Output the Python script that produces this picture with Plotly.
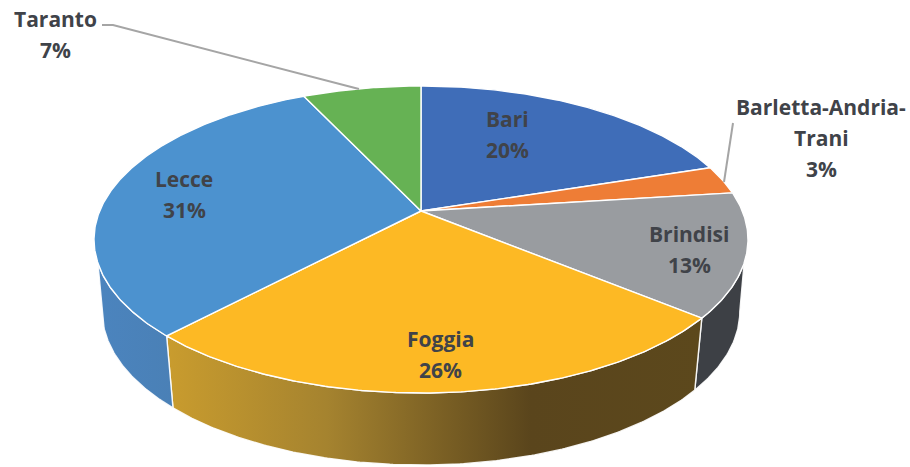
import numpy as np
import plotly.graph_objects as go

# --- data ---
categories = ["Bari", "Barletta-Andria-\nTrani", "Brindisi", "Foggia", "Lecce", "Taranto"]
shares = [20, 3, 13, 26, 31, 7]

# --- styles ---
top_colors = ["#3F6DB8", "#EE7D36", "#999CA0", "#FDB924", "#4C92CF", "#66B254"]
wall_scales = [
    None, None,
    [[0, "#3D4045"], [1, "#3D4045"]],
    [[0, "#C99C2E"], [0.3, "#A5832F"], [0.68, "#5A451C"], [1, "#5C481C"]],
    [[0, "#4B84BE"], [1, "#4A80B6"]],
    None,
]
label_centres = [(507, 119), (821, 107), (689, 234), (440, 339), (184, 179), (55, 19)]
line_pitch = 31
text_color = "#404349"
font_family = "Open Sans"
font_size = 21

# --- projection: pie disc seen in perspective, in image pixels ---
CX, CY = 421, 211
K, A, B = 0.1857, 148.2, 321.3
WALL_XS, WALL_YS, WALL_DY = 0.975, 1.0, 72
TOP_FRONT = (109.3, 250.7)
BOT_FRONT = (100.7, 259.3)


def rim(t_deg, wall=False):
    t = np.radians(t_deg)
    x, y = np.sin(t), np.cos(t)
    d = 1 + K * y
    px, py = B * x / d, A * y / d
    if wall:
        return CX + WALL_XS * px, CY - WALL_YS * py + WALL_DY
    return CX + px, CY - py


def span(a, b):
    return np.linspace(a, b, max(2, int(abs(b - a) * 2) + 1))


edges = np.concatenate([[0], np.cumsum(shares)]) * 360 / sum(shares)
fig = go.Figure()

# side walls
for i, scale in enumerate(wall_scales):
    a, b = edges[i], edges[i + 1]
    ta, tb = max(a, TOP_FRONT[0]), min(b, TOP_FRONT[1])
    ba, bb = max(a, BOT_FRONT[0]), min(b, BOT_FRONT[1])
    if scale is None or ta >= tb:
        continue
    xt, yt = rim(span(ta, tb))
    xb, yb = rim(span(bb, ba), wall=True)
    fig.add_trace(go.Scatter(
        x=np.r_[xt, xb, xt[0]], y=np.r_[yt, yb, yt[0]], mode="lines",
        fill="toself", fillgradient=dict(type="horizontal", colorscale=scale),
        line=dict(color="rgba(255,255,255,0.9)", width=1.4), hoverinfo="skip",
    ))

# top surface
for i, color in enumerate(top_colors):
    xr, yr = rim(span(edges[i], edges[i + 1]))
    fig.add_trace(go.Scatter(
        x=np.r_[CX, xr, CX], y=np.r_[CY, yr, CY], mode="lines", fill="toself",
        fillcolor=color, line=dict(color="white", width=1.4), hoverinfo="skip",
    ))

# leader lines
for lx, ly in [([102, 113, 359], [25, 25, 89]), ([733, 724], [123, 182])]:
    fig.add_trace(go.Scatter(x=lx, y=ly, mode="lines",
                             line=dict(color="#A5A5A5", width=2), hoverinfo="skip"))

# labels
for name, share, (lx, ly) in zip(categories, shares, label_centres):
    for j, line in enumerate(name.split("\n") + [f"{share}%"]):
        fig.add_annotation(x=lx, y=ly + j * line_pitch, text=line, showarrow=False,
                           xanchor="center", yanchor="middle",
                           font=dict(family=font_family, size=font_size, color=text_color, weight=700))

fig.update_layout(
    width=910, height=467, margin=dict(l=0, r=0, t=0, b=0), showlegend=False,
    paper_bgcolor="white", plot_bgcolor="white",
    xaxis=dict(range=[0, 910], visible=False, fixedrange=True),
    yaxis=dict(range=[467, 0], visible=False, fixedrange=True),
)
fig.write_html("out.html", config={"displayModeBar": False},
               post_script="document.body.style.margin='0';document.documentElement.style.overflow='hidden';")
